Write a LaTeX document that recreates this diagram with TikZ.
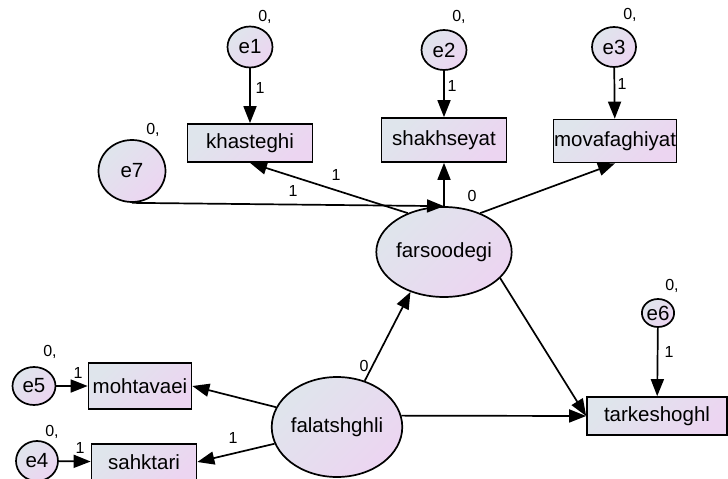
\documentclass[tikz,border=0pt]{standalone}
\usepackage{fontspec}
\setmainfont{Liberation Sans}
\usetikzlibrary{arrows.meta,shapes.geometric}
\definecolor{varleft}{HTML}{DFE5EC}
\definecolor{varright}{HTML}{ECD5F1}

\begin{document}
\begin{tikzpicture}[x=1pt,y=-1pt,
  var/.style={draw,line width=1.7pt,left color=varleft,right color=varright,shading angle=45,font=\fontsize{20.5}{22}\selectfont,inner sep=0pt},
  obs/.style n args={2}{var,rectangle,minimum width=#1,minimum height=#2},
  lat/.style n args={2}{var,ellipse,minimum width=#1,minimum height=#2},
  lbl/.style={font=\fontsize{16}{18}\selectfont,inner sep=0pt},
  arr/.style={line width=1.7pt,-{Triangle[length=17pt,width=13pt]}}]
\useasboundingbox (0,0) rectangle (728,479);
% observed variables
\node[obs={125pt}{38pt}] (khasteghi) at (250,143) {khasteghi};
\node[obs={125pt}{44pt}] (shakhseyat) at (444,140) {shakhseyat};
\node[obs={123pt}{43pt}] (movafaghiyat) at (615,141) {movafaghiyat};
\node[obs={103pt}{46pt}] (mohtavaei) at (140,386) {mohtavaei};
\node[obs={105pt}{36pt}] (sahktari) at (144,462) {sahktari};
\node[obs={140pt}{38pt}] (tarkeshoghl) at (657,416) {tarkeshoghl};
% latent variables
\node[lat={124pt}{90pt}] (farsoodegi) at (444,252) {farsoodegi};
\node[lat={120pt}{100pt}] (falatshghli) at (337,427) {falatshghli};
% error terms
\foreach \n/\cx/\cy/\w/\h in %
{e1/250/47/45/41,e2/444/50/45/40,e3/614/47/44/40,e7/132/171/67/62,%
 e5/34/386/43/38,e4/37/461/42/40,e6/658/313/32/28} {
   \node[lat={\w pt}{\h pt}] (\n) at (\cx,\cy) {\n};
}
\foreach \n/\cx/\cy in %
{e1/265/17,e2/459/17,e3/630/15,e7/153/130,e5/50/352,e4/52/432,e6/672/286} {
   \node[lbl] (v\n) at (\cx,\cy) {0,};
}
\foreach \a/\b in %
{e1/khasteghi,e2/shakhseyat,e3/movafaghiyat,e6/tarkeshoghl,e5/mohtavaei,e4/sahktari} {
   \draw[arr] (\a) -- (\b);
}
% paths
\draw[arr] (e7.south) -- (farsoodegi.north);
\draw[arr] (farsoodegi.133) -- (khasteghi.south);
\draw[arr] (farsoodegi.north) -- (shakhseyat.south);
\draw[arr] (farsoodegi.47) -- (movafaghiyat.south);
\draw[arr] (farsoodegi.-25) -- (tarkeshoghl.west);
\draw[arr] (falatshghli.59) -- (farsoodegi.-130);
\draw[arr] (falatshghli.10.6) -- (tarkeshoghl.west);
\draw[arr] (falatshghli.162) -- (mohtavaei.east);
\draw[arr] (falatshghli.195) -- (sahktari.east);
% weights
\foreach \i/\cx/\cy in %
{1/260/88,2/452/86,3/622/84,4/669/352,5/78/373,6/80/448,7/293/191,8/336/175,9/233/438} {
   \node[lbl] (w\i) at (\cx,\cy) {1};
}
\node[lbl] (wfars) at (472,196) {0};
\node[lbl] (wfal) at (364,366) {0};
\end{tikzpicture}
\end{document}
